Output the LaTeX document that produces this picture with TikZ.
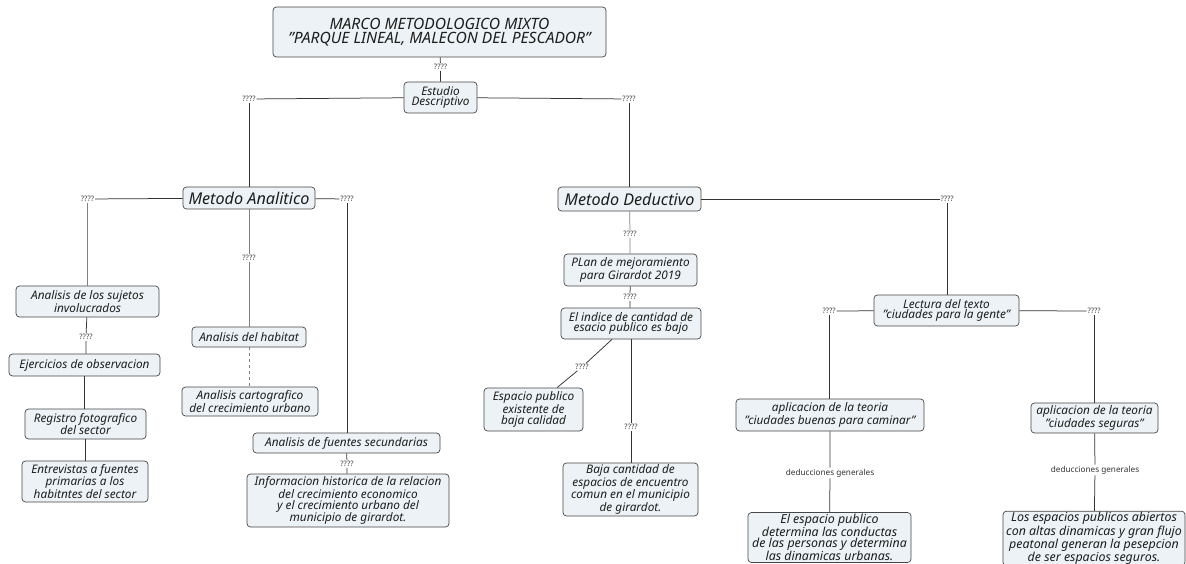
\documentclass[tikz,border=0pt]{standalone}
\usepackage{fontspec}
\setmainfont{Noto Sans}
\newcommand\qq{\symbol{34}}
\definecolor{boxfill}{RGB}{236,242,245}
\definecolor{boxline}{RGB}{70,70,70}
\definecolor{txtc}{RGB}{30,30,30}
\begin{document}
\begin{tikzpicture}[x=1pt,y=-1pt,
  bx/.style={draw=boxline, fill=boxfill, text=txtc, rounded corners=3.5pt, align=center, inner sep=1pt, line width=0.7pt},
  sz/.style 2 args={minimum width=#1, minimum height=#2},
  txt/.style={font=\fontsize{11.8}{10.8}\selectfont\itshape},
  big/.style={font=\fontsize{16.2}{14}\selectfont\itshape},
  ttl/.style={font=\fontsize{15.6}{14.6}\selectfont\itshape},
  bot/.style={font=\fontsize{12.4}{10.8}\selectfont\itshape},
  q/.style={font=\fontsize{7.5}{7.5}\selectfont, text=black!75, inner sep=0.8pt, fill=white},
  dl/.style={font=\fontsize{8.2}{8.2}\selectfont, text=black!80, inner sep=1pt, fill=white},
  ln/.style={draw=black!80, line width=0.75pt},
  lg/.style={draw=black!50, line width=0.75pt}]
\useasboundingbox (0,0) rectangle (1186,564);
\clip (0,0) rectangle (1186,564);
% nodes
\node[bx,ttl,sz={333}{50}] (title) at (439.5,32) {MARCO METODOLOGICO MIXTO\\\qq PARQUE LINEAL, MALECON DEL PESCADOR\qq};
\node[bx,txt,sz={73}{31}] (estudio) at (440.5,97.5) {Estudio\\Descriptivo};
\node[bx,big,sz={132}{22}] (analitico) at (249,198) {Metodo Analitico};
\node[bx,big,sz={143}{24}] (deductivo) at (629.5,199) {Metodo Deductivo};
\node[bx,txt,sz={143}{31}] (sujetos) at (87.5,301.5) {Analisis de los sujetos\\involucrados};
\node[bx,txt,sz={151}{22}] (ejercicios) at (84.5,365) {Ejercicios de observacion};
\node[bx,txt,sz={121}{30}] (registro) at (85.5,424) {Registro fotografico\\del sector};
\node[bx,txt,sz={126}{41}] (entrevistas) at (85,481.5) {Entrevistas a fuentes\\primarias a los\\habitntes del sector};
\node[bx,txt,sz={114}{20}] (habitat) at (249,337) {Analisis del habitat};
\node[bx,txt,sz={136}{29}] (carto) at (250,401.5) {Analisis cartografico\\del crecimiento urbano};
\node[bx,txt,sz={187}{20}] (fuentes) at (346.5,443) {Analisis de fuentes secundarias};
\node[bx,txt,sz={202}{53}] (info) at (348,500.5) {Informacion historica de la relacion\\del crecimiento economico\\y el crecimiento urbano del\\municipio de girardot.};
\node[bx,txt,sz={133}{32}] (plan) at (630.5,270) {PLan de mejoramiento\\para Girardot 2019};
\node[bx,txt,sz={140}{31}] (indice) at (631,323.5) {El indice de cantidad de\\esacio publico es bajo};
\node[bx,txt,sz={99}{43}] (espacio) at (533.5,409.5) {Espacio publico\\existente de\\baja calidad};
\node[bx,txt,sz={135}{53}] (baja) at (630.5,489.5) {Baja cantidad de\\espacios de encuentro\\comun en el municipio\\de girardot.};
\node[bx,txt,sz={145}{31}] (lectura) at (946.5,310.5) {Lectura del texto\\\qq ciudades para la gente\qq};
\node[bx,txt,sz={188}{32}] (caminar) at (830,415) {aplicacion de la teoria\\\qq ciudades buenas para caminar\qq};
\node[bx,txt,sz={127}{30}] (seguras) at (1094.5,418) {aplicacion de la teoria\\\qq ciudades seguras\qq};
\node[bx,bot,sz={163}{50}] (elesp) at (829.5,537.5) {El espacio publico\\determina las conductas\\de las personas y determina\\las dinamicas urbanas.};
\node[bx,bot,sz={182}{52}] (losesp) at (1094,538.5) {Los espacios publicos abiertos\\con altas dinamicas y gran flujo\\peatonal generan la pesepcion\\de ser espacios seguros.};
% labels
\node[q] (q0) at (440.5,67) {????};
\node[q] (qL) at (249,99) {????};
\node[q] (qR) at (629,99) {????};
\node[q] (qA1) at (87.5,199) {????};
\node[q] (qA2) at (347,199) {????};
\node[q] (qA3) at (249,258) {????};
\node[q] (qS) at (86,337) {????};
\node[q] (qF) at (347,464) {????};
\node[q] (qD1) at (947,199) {????};
\node[q] (qD2) at (630,234) {????};
\node[q] (qD3) at (630,297) {????};
\node[q] (qD4) at (582,367) {????};
\node[q] (qD5) at (631,427) {????};
\node[q] (qL1) at (829,311) {????};
\node[q] (qL2) at (1094,311) {????};
\node[dl] (dg1) at (830,473) {deducciones generales};
\node[dl] (dg2) at (1095,470) {deducciones generales};
% connectors
\draw[ln] (title) -- (q0) -- (estudio);
\draw[ln] (estudio) -- (qL);
\draw[ln] (estudio) -- (qR);
\draw[ln] (qL) -- (qL |- analitico.north);
\draw[ln] (qR) -- (qR |- deductivo.north);
\draw[ln] (analitico) -- (qA1);
\draw[ln] (analitico) -- (qA2);
\draw[lg] (qA1) -- (qA1 |- sujetos.north);
\draw[ln] (qA2) -- (qA2 |- fuentes.north);
\draw[lg] (analitico) -- (qA3) -- (habitat);
\draw[ln] (sujetos) -- (qS) -- (qS |- ejercicios.north);
\draw[ln] (ejercicios) -- (ejercicios |- registro.north);
\draw[ln] (registro) -- (registro |- entrevistas.north);
\draw[lg,dashed] (habitat) -- (habitat |- carto.north);
\draw[ln] (fuentes) -- (qF) -- (qF |- info.north);
\draw[ln] (deductivo) -- (qD1);
\draw[ln] (qD1) -- (qD1 |- lectura.north);
\draw[lg] (deductivo) -- (qD2) -- (qD2 |- plan.north);
\draw[ln] (plan) -- (qD3) -- (qD3 |- indice.north);
\draw[ln] (indice.south -| 612,0) -- (qD4) -- (espacio.north -| 557,0);
\draw[ln] (indice.south -| qD5) -- (qD5) -- (qD5 |- baja.north);
\draw[ln] (lectura) -- (qL1);
\draw[ln] (lectura) -- (qL2);
\draw[ln] (qL1) -- (qL1 |- caminar.north);
\draw[ln] (qL2) -- (qL2 |- seguras.north);
\draw[ln] (caminar) -- (dg1) -- (elesp);
\draw[ln] (seguras) -- (dg2) -- (losesp);
\end{tikzpicture}
\end{document}
